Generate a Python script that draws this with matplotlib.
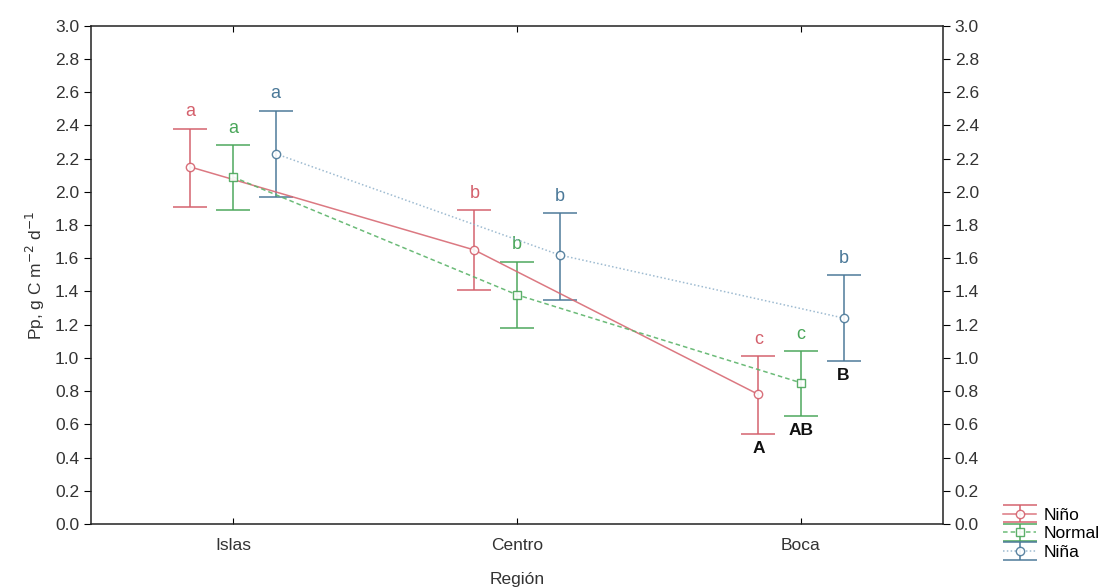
import matplotlib.pyplot as plt
import numpy as np

plt.rcParams['font.family'] = ['Liberation Sans', 'DejaVu Sans']

regiones = ['Islas', 'Centro', 'Boca']
series = ['Niño', 'Normal', 'Niña']

# media y límites del intervalo por región
nino_media = [2.15, 1.65, 0.78]
nino_sup = [2.38, 1.89, 1.01]
nino_inf = [1.91, 1.41, 0.54]

normal_media = [2.09, 1.38, 0.85]
normal_sup = [2.28, 1.58, 1.04]
normal_inf = [1.89, 1.18, 0.65]

nina_media = [2.23, 1.62, 1.24]
nina_sup = [2.49, 1.87, 1.50]
nina_inf = [1.97, 1.35, 0.98]

letras_min = [['a', 'b', 'c'], ['a', 'b', 'c'], ['a', 'b', 'b']]
letras_may = ['A', 'AB', 'B']

colores = ['#d4606c', '#4aa65a', '#4a7898']
col_linea = ['#d86a74', '#5cb46a', '#94b4cc']
lineas = ['-', (0, (3, 2)), (0, (1, 1.5))]
marcas = ['o', 's', 'o']
desplaz = [-0.15, 0.0, 0.15]

medias = [nino_media, normal_media, nina_media]
sups = [nino_sup, normal_sup, nina_sup]
infs = [nino_inf, normal_inf, nina_inf]

fig = plt.figure(figsize=(11.1, 5.88), dpi=100)
ax = fig.add_axes([0.082, 0.109, 0.7675, 0.847])
x = np.arange(len(regiones))

handles = []
for i, s in enumerate(series):
    xs = x + desplaz[i]
    m = np.array(medias[i])
    err = [m - np.array(infs[i]), np.array(sups[i]) - m]
    h = ax.errorbar(xs, m, yerr=err, color=colores[i], ls=lineas[i], lw=1.1,
                    marker=marcas[i], ms=6, mfc='white', mec=colores[i],
                    capsize=12, elinewidth=1.2, capthick=1.2, label=s,
                    alpha=0.9, zorder=3)
    h[0].set_color(col_linea[i])
    h[0].set_markeredgecolor(colores[i])
    handles.append(h)
    for j in range(len(regiones)):
        ax.text(xs[j], sups[i][j] + 0.05, letras_min[i][j], color=colores[i],
                ha='center', va='bottom', fontsize=13)

# letras de comparación entre años en Boca
for i in range(len(series)):
    ax.text(2 + desplaz[i], infs[i][2] - 0.04, letras_may[i], ha='center', va='top',
            fontsize=12.5, fontweight='bold', color='#111111')

ax.set_xlim(-0.5, 2.5)
ax.set_ylim(0, 3.0)
ax.set_xticks(x)
ax.set_xticklabels(regiones, fontsize=12.5, color='#333333')
ax.set_yticks(np.arange(0, 3.01, 0.2))
ax.set_yticklabels(['%.1f' % v for v in np.arange(0, 3.01, 0.2)], fontsize=12.5, color='#333333')
ax.tick_params(axis='x', direction='in', top=True, length=4, pad=10)
ax.tick_params(axis='y', direction='out', length=5, right=True, labelright=True)
for sp in ax.spines.values():
    sp.set_color('#222222')
    sp.set_linewidth(1.1)

ax.set_ylabel('Pp, g C m$^{-2}$ d$^{-1}$', fontsize=12.5, color='#333333', labelpad=6)
ax.set_xlabel('Región', fontsize=12.5, color='#333333', labelpad=14)

fig.legend(handles=handles, labels=series, loc='lower left',
           bbox_to_anchor=(0.893, 0.027), frameon=False, fontsize=12.5,
           handlelength=1.9, handletextpad=0.4, labelspacing=0.2, borderpad=0.2)

fig.savefig('out.png', dpi=100)
